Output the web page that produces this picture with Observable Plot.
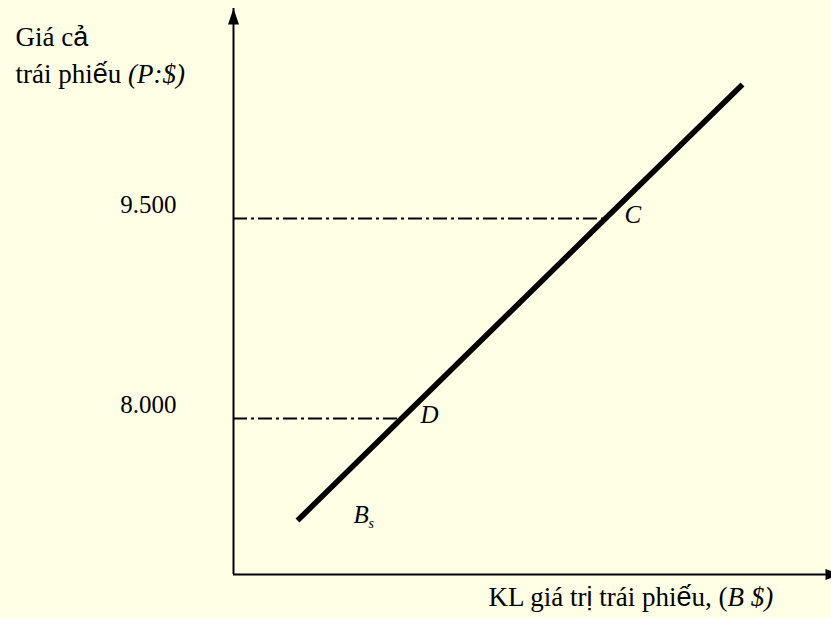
<!DOCTYPE html>
<html><head><meta charset="utf-8">
<script src="https://cdn.jsdelivr.net/npm/d3@7"></script>
<script src="https://cdn.jsdelivr.net/npm/@observablehq/plot@0.6"></script>
<style>html,body{margin:0;padding:0;background:#FFFFE5;overflow:hidden}</style>
</head><body><div id="chart"></div>
<script>
// ---- data ----
const quantity = [64, 168, 372, 509];          // bond quantity (arbitrary units)
const price = [7235, 8000, 9500, 10505];        // bond price ($)
const pointNames = ["", "D", "C", ""];
const levelPrices = [8000, 9500];
const levelQuantity = [168, 372];
const tickLabels = ["8.000", "9.500"];
const yTitle1 = [["Giá cả", false]];
const yTitle2 = [["trái phiếu ", false], ["(P:$)", true]];
const xTitle = [["KL giá trị trái phiếu, (", false], ["B $)", true]];
const curveName = ["B", "s"];
const qDomain = [0, 598];
const pDomain = [6830, 11075];

const supply = quantity.map((q, i) => ({q, p: price[i], name: pointNames[i]}));
const levels = levelPrices.map((p, i) => ({p, q: levelQuantity[i]}));
const joined = parts => parts.map(d => d[0]).join("");

const upArrow = {draw(c) { c.moveTo(0, 0); c.lineTo(5.5, 16); c.lineTo(-5.5, 16); c.closePath(); }};
const rightArrow = {draw(c) { c.moveTo(10, 0); c.lineTo(-6, -5.5); c.lineTo(-6, 5.5); c.closePath(); }};

const serif = "'Liberation Serif', 'Times New Roman', serif";
const sans = "'Liberation Sans', Arial, sans-serif";
const T = {fontFamily: serif, fontSize: 25, textAnchor: "start", lineAnchor: "bottom", fill: "black"};
const svg = Plot.plot({
  width: 831, height: 618,
  marginLeft: 233, marginRight: 0, marginTop: 8, marginBottom: 44,
  x: {domain: qDomain, axis: null},
  y: {domain: pDomain},
  style: `background:#FFFFE5;font-family:${serif};font-size:25px;color:black;overflow:visible`,
  marks: [
    Plot.ruleY([pDomain[0]], {x1: qDomain[0], x2: qDomain[1], stroke: "black", strokeWidth: 2}),
    Plot.ruleX([qDomain[0]], {y1: pDomain[0], y2: pDomain[1], stroke: "black", strokeWidth: 2}),
    Plot.dot([{q: qDomain[0], p: pDomain[1]}], {x: "q", y: "p", symbol: upArrow, fill: "black", stroke: "none"}),
    Plot.dot([{q: qDomain[1], p: pDomain[0]}], {x: "q", y: "p", symbol: rightArrow, fill: "black", stroke: "none"}),
    Plot.ruleY(levels, {y: "p", x1: qDomain[0], x2: "q", stroke: "black", strokeWidth: 2, strokeDasharray: "14,4,3,4"}),
    Plot.line(supply, {x: "q", y: "p", stroke: "black", strokeWidth: 5.5, strokeLinecap: "butt"}),
    Plot.axisY({ticks: levelPrices, tickFormat: d => tickLabels[levelPrices.indexOf(d)], tickSize: 0, tickPadding: 57, dy: -14, fontSize: 25, fontFamily: serif, label: null}),
    Plot.text(supply.filter(d => d.name), {...T, x: "q", y: "p", text: "name", dx: 19, dy: 4, fontStyle: "italic"}),
    Plot.text([supply[0]], {...T, x: "q", y: "p", text: () => curveName[0], dx: 56, dy: 2, fontStyle: "italic"}),
    Plot.text([supply[0]], {...T, x: "q", y: "p", text: () => curveName[1], dx: 71, dy: 7, fontSize: 14, fontStyle: "italic"}),
    Plot.text([joined(yTitle1)], {...T, fontSize: 27, frameAnchor: "top-left", text: d => d, dx: -218, dy: 37}),
    Plot.text([joined(yTitle2)], {...T, fontSize: 27, frameAnchor: "top-left", text: d => d, dx: -218, dy: 74}),
    Plot.text([joined(xTitle)], {...T, fontSize: 27, frameAnchor: "bottom-left", text: d => d, dx: 255, dy: 31})
  ]
});

function restyle(parts) {
  const full = joined(parts);
  const el = Array.from(svg.querySelectorAll("text")).find(t => t.textContent === full);
  if (!el) return;
  el.textContent = "";
  parts.forEach(([str, italic]) => {
    for (const chunk of str.split(/([ảếị])/)) {
      if (!chunk) continue;
      const ts = document.createElementNS("http://www.w3.org/2000/svg", "tspan");
      ts.textContent = chunk;
      if (/[ảếị]/.test(chunk)) ts.setAttribute("font-family", sans);
      if (italic) ts.setAttribute("font-style", "italic");
      el.appendChild(ts);
    }
  });
}
restyle(yTitle1);
restyle(yTitle2);
restyle(xTitle);

document.getElementById("chart").appendChild(svg);
</script>
</body></html>
